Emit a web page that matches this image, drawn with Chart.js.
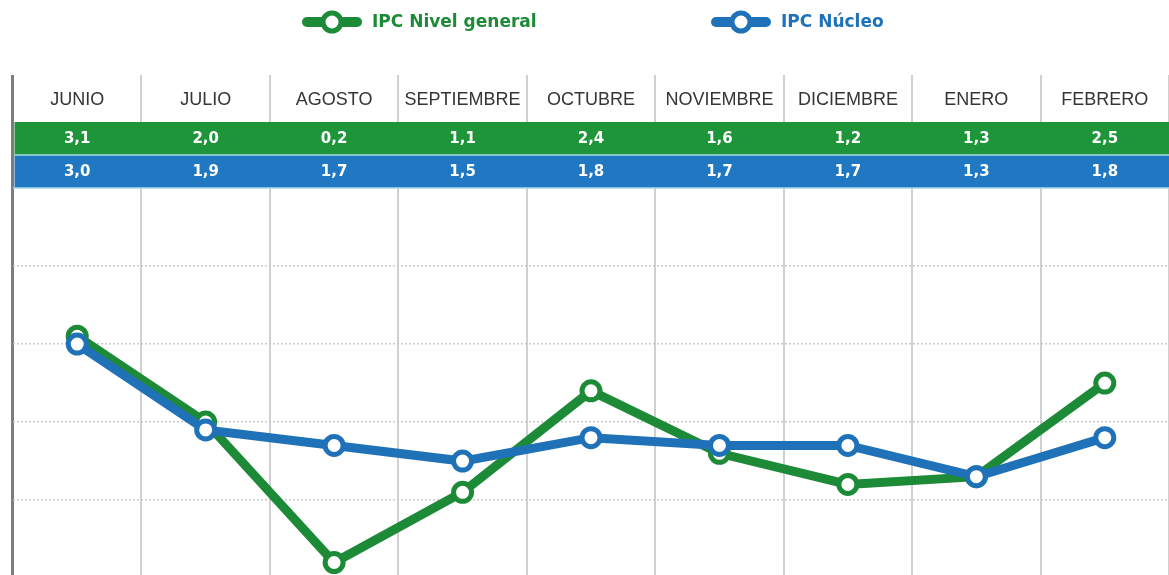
<!DOCTYPE html>
<html lang="es">
<head>
<meta charset="UTF-8">
<title>IPC Nivel general vs IPC Núcleo</title>
<script src="https://cdn.jsdelivr.net/npm/chart.js@4"></script>
<style>
  html, body { margin: 0; padding: 0; background: #fff; }
  #contenedor { width: 1169px; height: 575px; }
</style>
</head>
<body>
<div id="contenedor"><canvas id="grafico"></canvas></div>
<script>
// datos
const meses = ["JUNIO", "JULIO", "AGOSTO", "SEPTIEMBRE", "OCTUBRE", "NOVIEMBRE", "DICIEMBRE", "ENERO", "FEBRERO"];
const ipcGeneral = [3.1, 2.0, 0.2, 1.1, 2.4, 1.6, 1.2, 1.3, 2.5];
const ipcNucleo = [3.0, 1.9, 1.7, 1.5, 1.8, 1.7, 1.7, 1.3, 1.8];
const ejeTicks = [0, 1, 2, 3, 4, 5];
const ejeMin = 0.04, ejeMax = 5; // la linea del 0 queda justo debajo del borde

const VERDE = "#1c8a37", AZUL = "#1f72b8";
const FUENTE = "'Liberation Sans', Arial, sans-serif";
const FUENTE_NEGRA = "'DejaVu Sans', Verdana, sans-serif";

const fmt = v => v.toFixed(1).replace(".", ",");

// filas verde y azul con los valores, debajo de los meses
const tablaIPC = {
  id: "tablaIPC",
  beforeDatasetsDraw(chart) {
    const { ctx, chartArea, scales: { x } } = chart;
    const alto = 33;
    const filas = [
      { datos: ipcGeneral, fondo: "#1f9539" },
      { datos: ipcNucleo, fondo: "#1f78c1" }
    ];
    ctx.save();
    filas.forEach((f, n) => {
      const y0 = chartArea.top - alto * (2 - n);
      ctx.fillStyle = f.fondo;
      ctx.fillRect(chartArea.left + 1.5, y0, chartArea.right - chartArea.left, alto);
      ctx.fillStyle = "#fff";
      ctx.font = "bold 15px " + FUENTE_NEGRA;
      ctx.textAlign = "center";
      ctx.textBaseline = "middle";
      f.datos.forEach((v, i) => ctx.fillText(fmt(v), x.getPixelForValue(i), y0 + alto / 2 + 1));
    });
    // lineas claras entre filas
    ctx.strokeStyle = "#a8dbe6";
    ctx.lineWidth = 1.5;
    ctx.beginPath();
    ctx.moveTo(chartArea.left + 1.5, chartArea.top - alto);
    ctx.lineTo(chartArea.right, chartArea.top - alto);
    ctx.moveTo(chartArea.left + 1.5, chartArea.top);
    ctx.lineTo(chartArea.right, chartArea.top);
    ctx.stroke();
    ctx.restore();
  }
};

// leyenda dibujada a mano (linea gruesa con circulo)
const leyendaIPC = {
  id: "leyendaIPC",
  afterDraw(chart, args, opts) {
    const { ctx } = chart;
    ctx.save();
    chart.data.datasets.forEach((ds, i) => {
      const cx = opts.centros[i], cy = opts.y;
      ctx.strokeStyle = ds.borderColor;
      ctx.lineCap = "round";
      ctx.lineWidth = 10;
      ctx.beginPath();
      ctx.moveTo(cx - 25, cy);
      ctx.lineTo(cx + 25, cy);
      ctx.stroke();
      ctx.beginPath();
      ctx.arc(cx, cy, 9, 0, Math.PI * 2);
      ctx.fillStyle = "#fff";
      ctx.fill();
      ctx.lineWidth = 5;
      ctx.stroke();
      ctx.fillStyle = ds.borderColor;
      ctx.font = "bold 17px " + FUENTE_NEGRA;
      ctx.textAlign = "left";
      ctx.textBaseline = "middle";
      ctx.fillText(ds.label, cx + 40, cy + 1);
    });
    ctx.restore();
  }
};

new Chart(document.getElementById("grafico"), {
  type: "line",
  data: {
    labels: meses,
    datasets: [
      {
        label: "IPC Nivel general",
        data: ipcGeneral,
        borderColor: VERDE,
        backgroundColor: VERDE,
        borderWidth: 9,
        pointRadius: 9,
        pointBorderWidth: 5,
        pointBackgroundColor: "#fff",
        pointBorderColor: VERDE,
        order: 1
      },
      {
        label: "IPC Núcleo",
        data: ipcNucleo,
        borderColor: AZUL,
        backgroundColor: AZUL,
        borderWidth: 9,
        pointRadius: 9,
        pointBorderWidth: 5,
        pointBackgroundColor: "#fff",
        pointBorderColor: AZUL,
        order: 0
      }
    ]
  },
  options: {
    responsive: true,
    maintainAspectRatio: false,
    animation: false,
    layout: { autoPadding: false, padding: { top: 75, left: 13, right: 0, bottom: 0 } },
    plugins: {
      legend: { display: false },
      tooltip: { enabled: false },
      leyendaIPC: { centros: [332, 741], y: 22 }
    },
    scales: {
      x: {
        position: "top",
        offset: true,
        border: { display: false },
        grid: {
          offset: true,
          drawTicks: true,
          tickLength: 113,
          color: c => c.index === 0 ? "#7d7d7d" : "#d0d0d0",
          lineWidth: c => c.index === 0 ? 3 : 2
        },
        ticks: {
          padding: -36,
          autoSkip: false,
          maxRotation: 0,
          color: "#353535",
          font: { family: FUENTE, size: 18 }
        },
        // alto fijo del encabezado (meses + filas de valores)
        afterFit(scale) {
          scale.height = 113;
          scale.paddingLeft = 0;
          scale.paddingRight = 0;
        }
      },
      y: {
        min: ejeMin,
        max: ejeMax,
        border: { display: false, dash: [2, 2] },
        grid: { drawTicks: false, color: "#c9c9c9", lineWidth: 1.5 },
        ticks: { display: false },
        afterBuildTicks(scale) {
          scale.ticks = ejeTicks.filter(v => v >= ejeMin).map(v => ({ value: v }));
        }
      }
    }
  },
  plugins: [tablaIPC, leyendaIPC]
});
</script>
</body>
</html>
